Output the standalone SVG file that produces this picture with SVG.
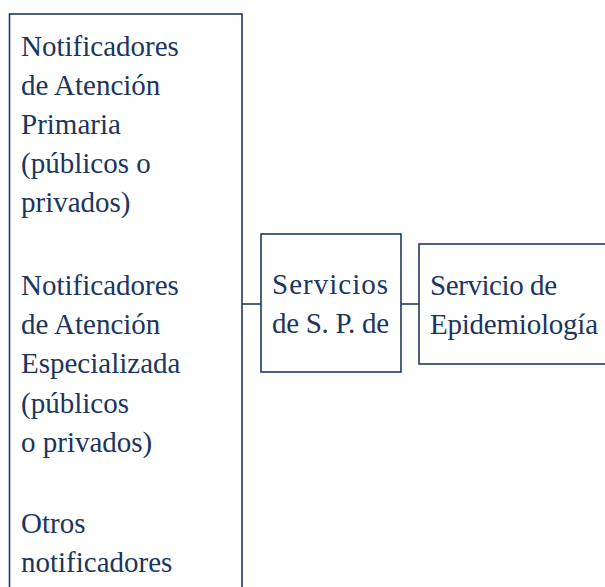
<svg xmlns="http://www.w3.org/2000/svg" width="605" height="587" viewBox="0 0 605 587">
<style>
.box{fill:#fff;stroke:#1f3a64;stroke-width:1.6}
.ln{stroke:#1f3a64;stroke-width:1.6;fill:none}
text{font-family:"Liberation Serif","Times New Roman",serif;font-size:29px;fill:#1b3560}
</style>
<rect width="605" height="587" fill="#fff"/>
<g id="connectors">
<line class="ln" x1="242" y1="304" x2="261" y2="304"/>
<line class="ln" x1="401" y1="304" x2="419" y2="304"/>
</g>
<g id="notificadores">
<rect class="box" x="9.5" y="14" width="232.5" height="590"/>
<text x="21" y="56">Notificadores</text>
<text x="21" y="95">de Atención</text>
<text x="21" y="134">Primaria</text>
<text x="21" y="173">(públicos o</text>
<text x="21" y="212">privados)</text>
<text x="21" y="295">Notificadores</text>
<text x="21" y="334">de Atención</text>
<text x="21" y="373">Especializada</text>
<text x="21" y="413">(públicos</text>
<text x="21" y="452">o privados)</text>
<text x="21" y="533">Otros</text>
<text x="21" y="572">notificadores</text>
</g>
<g id="servicios-sp">
<rect class="box" x="261" y="234" width="140" height="138"/>
<text x="272" y="294" textLength="116" lengthAdjust="spacing">Servicios</text>
<text x="272" y="333" textLength="117" lengthAdjust="spacing">de S. P. de</text>
</g>
<g id="epidemiologia">
<rect class="box" x="419" y="244" width="200" height="120"/>
<text x="430" y="295" textLength="127" lengthAdjust="spacing">Servicio de</text>
<text x="430" y="334" textLength="168" lengthAdjust="spacing">Epidemiología</text>
</g>
</svg>
